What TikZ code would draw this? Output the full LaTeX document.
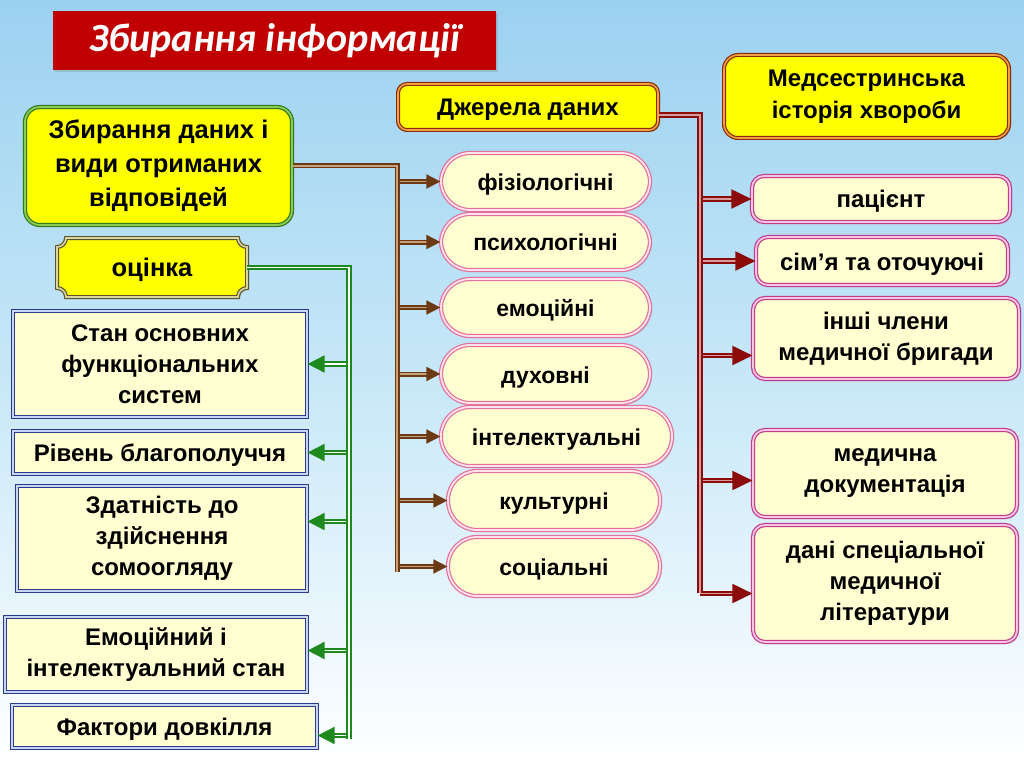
\documentclass[tikz,border=0pt]{standalone}
\usepackage{fontspec}
\setmainfont{Liberation Sans}
\newfontfamily\headfont{Carlito}
\usetikzlibrary{arrows.meta,calc,shadows}
\definecolor{SlideSky}{HTML}{9BD1F0}
\definecolor{SlideMist}{HTML}{C8E8F8}
\definecolor{TitleRed}{HTML}{C00000}
\definecolor{BoxYellow}{HTML}{FFFF00}
\definecolor{PaleYellow}{HTML}{FFFFD2}
\definecolor{LeafGreen}{HTML}{2F7A1C}
\definecolor{LeafLight}{HTML}{8DCB55}
\definecolor{ArrowGreen}{HTML}{1E8A1E}
\definecolor{InkBlue}{HTML}{2A3A8E}
\definecolor{InkBlueLight}{HTML}{C8D5F3}
\definecolor{RoseEdge}{HTML}{E3709A}
\definecolor{RoseLight}{HTML}{FFE2EC}
\definecolor{PlumEdge}{HTML}{C23C8C}
\definecolor{PlumLight}{HTML}{F6C6E2}
\definecolor{BarkBrown}{HTML}{6B3A14}
\definecolor{BarkLight}{HTML}{C9A27C}
\definecolor{WineRed}{HTML}{8C0C0C}
\definecolor{WineLight}{HTML}{D89A9A}
\definecolor{RustEdge}{HTML}{8A2A0A}
\definecolor{RustLight}{HTML}{F2A043}
\definecolor{OliveEdge}{HTML}{59532E}
\definecolor{OliveLight}{HTML}{D9D6A0}

\begin{document}
\begin{tikzpicture}[
  x=1pt,y=1pt,
  >=Stealth,
  card/.style={inner sep=0pt,align=center,
    drop shadow={opacity=0.25,shadow xshift=2pt,shadow yshift=-2pt}},
  oneline/.style={align=none,text height=23pt,text depth=5pt},
  greencard/.style={card,rounded corners=15pt,fill=BoxYellow,draw=LeafGreen,
    double=LeafLight,double distance=1.8pt,line width=1.2pt,
    font=\bfseries\fontsize{25.5}{34}\selectfont},
  rustcard/.style={card,rounded corners=9pt,fill=BoxYellow,draw=RustEdge,
    double=RustLight,double distance=1.6pt,line width=1.2pt,
    font=\bfseries\fontsize{24}{32}\selectfont},
  bluecard/.style={card,fill=PaleYellow,draw=InkBlue,double=InkBlueLight,
    double distance=1.4pt,line width=1.2pt,
    font=\bfseries\fontsize{24}{31}\selectfont},
  rosecard/.style={card,oneline,rounded corners=29pt,fill=PaleYellow,draw=RoseEdge,
    double=RoseLight,double distance=1.8pt,line width=1.2pt,
    font=\bfseries\fontsize{23}{28}\selectfont},
  plumcard/.style={card,rounded corners=12pt,fill=PaleYellow,draw=PlumEdge,
    double=PlumLight,double distance=1.8pt,line width=1.2pt,
    font=\bfseries\fontsize{24}{31}\selectfont},
  plaque/.style={fill=BoxYellow,draw=OliveEdge,double=OliveLight,
    double distance=1.6pt,line width=1.2pt,
    drop shadow={opacity=0.25,shadow xshift=2pt,shadow yshift=-2pt}},
  barkline/.style={draw=BarkBrown,double=BarkLight,double distance=1.6pt,line width=1.7pt},
  barkarrow/.style={barkline,-{Triangle[length=14pt,width=14pt,fill=BarkBrown]}},
  wineline/.style={draw=WineRed,double=WineLight,double distance=1.6pt,line width=2pt},
  winearrow/.style={wineline,-{Triangle[length=20pt,width=19pt,fill=WineRed]}},
  leafline/.style={draw=ArrowGreen,double=white,double distance=1.8pt,line width=1.8pt},
  leafarrow/.style={leafline,-{Triangle[length=17pt,width=17pt,fill=ArrowGreen]}}
]
  % Slide background.
  \useasboundingbox (0,0) rectangle (1024,-767);
  \shade[top color=SlideSky,bottom color=white,middle color=SlideMist]
    (0,0) rectangle (1024,-767);

  % Heading.
  \node[fill=TitleRed,minimum width=443pt,minimum height=59pt,inner sep=0pt,
    text=white,font=\headfont\bfseries\itshape\fontsize{40}{44}\selectfont,
    drop shadow={opacity=0.3,shadow xshift=2pt,shadow yshift=-2pt}]
    (title) at (274.5,-40.5) {Збирання інформації};

  % Upper boxes.
  \node[rustcard,oneline,minimum width=260pt,minimum height=46pt] (sources) at (528,-107)
    {Джерела даних};
  \node[greencard,minimum width=267pt,minimum height=118pt] (collect) at (158.5,-166)
    {Збирання даних і\\ види отриманих\\ відповідей};
  \node[rustcard,rounded corners=14pt,minimum width=285pt,minimum height=83pt]
    (history) at (866.5,-96.5) {Медсестринська\\ історія хвороби};

  % Plaque with inward corners.
  \draw[plaque] (66,-297) -- (238,-297) arc[start angle=180,end angle=90,radius=9]
    -- (247,-247) arc[start angle=270,end angle=180,radius=9]
    -- (66,-238) arc[start angle=0,end angle=-90,radius=9]
    -- (57,-288) arc[start angle=90,end angle=0,radius=9] -- cycle;
  \node[inner sep=0pt,oneline,minimum width=190pt,minimum height=59pt,
    font=\bfseries\fontsize{25.5}{30}\selectfont] (rating) at (152,-267.5) {оцінка};

  % Assessed states.
  \node[bluecard,minimum width=294pt,minimum height=106pt] (state) at (160,-364)
    {Стан основних\\ функціональних\\ систем};
  \node[bluecard,oneline,minimum width=294pt,minimum height=43pt] (wellbeing) at (160,-452.5)
    {Рівень благополуччя};
  \node[bluecard,minimum width=290pt,minimum height=105pt] (selfcare) at (162,-538.5)
    {Здатність до\\ здійснення\\ сомоогляду};
  \node[bluecard,minimum width=302pt,minimum height=75pt] (mind) at (156,-654.5)
    {Емоційний і\\ інтелектуальний стан};
  \node[bluecard,oneline,minimum width=305pt,minimum height=43pt] (milieu) at (164.5,-726.5)
    {Фактори довкілля};

  % Kinds of answers.
  \node[rosecard,minimum width=209pt,minimum height=57pt] (t1) at (545.5,-181.5) {фізіологічні};
  \node[rosecard,minimum width=209pt,minimum height=56pt] (t2) at (545.5,-242) {психологічні};
  \node[rosecard,minimum width=209pt,minimum height=57pt] (t3) at (545.5,-307.5) {емоційні};
  \node[rosecard,minimum width=209pt,minimum height=58pt] (t4) at (545.5,-374) {духовні};
  \node[rosecard,minimum width=231pt,minimum height=59pt] (t5) at (556.5,-436.5) {інтелектуальні};
  \node[rosecard,minimum width=212pt,minimum height=59pt] (t6) at (554,-500.5) {культурні};
  \node[rosecard,minimum width=212pt,minimum height=59pt] (t7) at (554,-566.5) {соціальні};

  % Sources of data.
  \node[plumcard,oneline,minimum width=258pt,minimum height=46pt] (s1) at (881,-199) {пацієнт};
  \node[plumcard,oneline,minimum width=252pt,minimum height=48pt] (s2) at (882,-261) {сім’я та оточуючі};
  \node[plumcard,minimum width=266pt,minimum height=81pt] (s3) at (886,-338.5)
    {інші члени\\ медичної бригади};
  \node[plumcard,minimum width=264pt,minimum height=87pt] (s4) at (885,-473.5)
    {медична\\ документація};
  \node[plumcard,minimum width=264pt,minimum height=117pt] (s5) at (885,-583.5)
    {дані спеціальної\\ медичної\\ літератури};

  % Brown branch: answers.
  \coordinate (typesEnd) at (397,-572);
  \foreach \n in {t1,t2,t3,t4,t5,t6,t7}
    \draw[barkarrow] (typesEnd |- \n.west) -- (\n.west);
  \draw[barkline] (collect.east) -| (typesEnd);

  % Dark red branch: sources.
  \coordinate (srcEnd) at (700,-593);
  \draw[winearrow] (srcEnd |- s1.west) -- (s1.west);
  \draw[winearrow] (srcEnd |- s2.west) -- (s2.west);
  \draw[winearrow] ([yshift=-17pt]s3.west -| srcEnd) -- ([yshift=-17pt]s3.west);
  \draw[winearrow] ([yshift=-7pt]s4.west -| srcEnd) -- ([yshift=-7pt]s4.west);
  \draw[winearrow] ([yshift=-10pt]s5.west -| srcEnd) -- ([yshift=-10pt]s5.west);
  \draw[wineline] ([yshift=-8pt]sources.east) -| (srcEnd);

  % Green branch: assessment.
  \coordinate (rateEnd) at (349,-739);
  \draw[leafarrow] (rateEnd |- state.east) -- (state.east);
  \draw[leafarrow] (rateEnd |- wellbeing.east) -- (wellbeing.east);
  \draw[leafarrow] ([yshift=17pt]selfcare.east -| rateEnd) -- ([yshift=17pt]selfcare.east);
  \draw[leafarrow] ([yshift=4pt]mind.east -| rateEnd) -- ([yshift=4pt]mind.east);
  \draw[leafarrow] ([yshift=-9pt]milieu.east -| rateEnd) -- ([yshift=-9pt]milieu.east);
  \draw[leafline] (rating.east) -| (rateEnd);
\end{tikzpicture}
\end{document}
